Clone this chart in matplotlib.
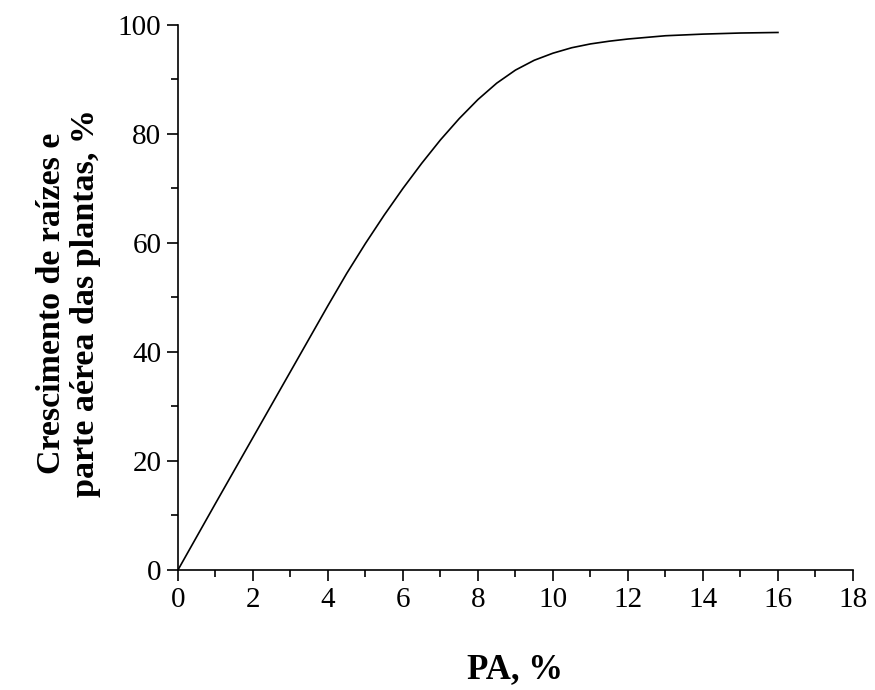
import matplotlib.pyplot as plt
from matplotlib.ticker import MultipleLocator

plt.rcParams['font.family'] = ['Liberation Serif', 'DejaVu Serif']

# PA (%) and growth of roots and shoots (%)
pa = [0, 1, 2, 3, 4, 4.5, 5, 5.5, 6, 6.5, 7, 7.5, 8, 8.5, 9, 9.5,
      10, 10.5, 11, 11.5, 12, 13, 14, 15, 16]
crescimento = [0, 12.2, 24.3, 36.4, 48.5, 54.4, 59.9, 65.1, 70.0, 74.6,
               78.9, 82.8, 86.3, 89.3, 91.7, 93.5, 94.8, 95.8, 96.5, 97.0,
               97.4, 98.0, 98.3, 98.5, 98.6]

fig = plt.figure(figsize=(8.75, 6.9), dpi=100)
ax = fig.add_axes([0.2034, 0.174, 0.7714, 0.79])

ax.plot(pa, crescimento, color='black', linewidth=1.2)

ax.set_xlim(0, 18)
ax.set_ylim(0, 100)
ax.xaxis.set_major_locator(MultipleLocator(2))
ax.xaxis.set_minor_locator(MultipleLocator(1))
ax.yaxis.set_major_locator(MultipleLocator(20))
ax.yaxis.set_minor_locator(MultipleLocator(10))

ax.spines['top'].set_visible(False)
ax.spines['right'].set_visible(False)
for s in ['left', 'bottom']:
    ax.spines[s].set_linewidth(1.2)

ax.tick_params(which='major', direction='out', length=8, width=1.2,
               labelsize=21, pad=4)
ax.tick_params(which='minor', direction='out', length=5, width=1.2)

ax.set_xlabel('PA, %', fontsize=25, fontweight='bold', labelpad=29)
ax.set_ylabel('Crescimento de raízes e\nparte aérea das plantas, %',
              fontsize=24.5, fontweight='bold', linespacing=1.12)
ax.yaxis.set_label_coords(-0.114, 0.49)

fig.savefig('out.png', dpi=100)
